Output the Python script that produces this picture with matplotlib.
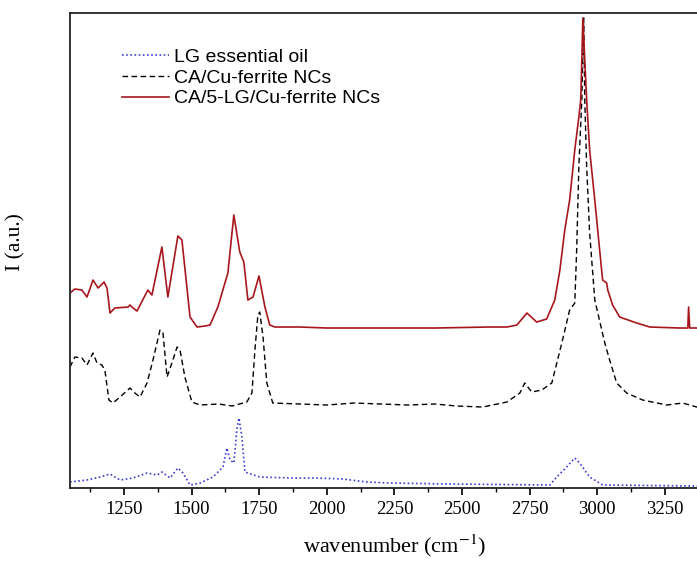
import numpy as np
import matplotlib
matplotlib.use('Agg')
import matplotlib.pyplot as plt
from matplotlib.ticker import MultipleLocator

plt.rcParams['font.family'] = 'Liberation Serif'
plt.rcParams['mathtext.fontset'] = 'stix'

# CA/5-LG/Cu-ferrite NCs (solid red)
red_wn = [1050, 1068, 1094, 1113, 1135, 1154, 1176, 1187, 1198, 1216, 1265, 1272,
          1279, 1298, 1338, 1353, 1390, 1412, 1449, 1464, 1494, 1520, 1549, 1568,
          1597, 1634, 1656, 1678, 1693, 1708, 1727, 1749, 1771, 1789, 1808, 1900,
          2000, 2200, 2400, 2600, 2666, 2703, 2740, 2776, 2813, 2843,
          2862, 2880, 2898, 2917, 2932, 2939, 2943, 2947, 2954, 2961, 2972, 2991,
          3009, 3020, 3035, 3039, 3057, 3083, 3146, 3194, 3305, 3335, 3338, 3342,
          3368, 3450]
red_int = [195, 199, 198, 191, 208, 200, 206, 200, 175, 180, 181, 183,
           181, 177, 198, 193, 241, 191, 252, 248, 171, 161, 162, 163,
           181, 215, 273, 236, 226, 188, 191, 212, 181, 163, 161, 161,
           160, 160, 160, 161, 161, 163, 175, 166, 169, 188,
           218, 258, 288, 338, 371, 388, 428, 470, 428, 388, 338, 288,
           238, 208, 205, 198, 183, 171, 165, 161, 160, 160, 181, 160,
           160, 160]

# CA/Cu-ferrite NCs (dashed black)
blk_wn = [1050, 1068, 1094, 1113, 1135, 1150, 1168, 1179, 1194, 1209, 1235, 1272,
          1290, 1309, 1335, 1357, 1383, 1394, 1409, 1427, 1446, 1457, 1475, 1501,
          1531, 1600, 1650, 1704, 1723, 1734, 1745, 1752, 1764, 1778, 1800, 1900,
          2000, 2100, 2200, 2300, 2400, 2480, 2577, 2666, 2714, 2732, 2758, 2795,
          2832, 2869, 2898, 2917, 2924, 2932, 2943, 2950, 2954, 2961, 2972, 2991,
          3028, 3046, 3072, 3109, 3168, 3257, 3316, 3368, 3450]
blk_int = [121, 131, 130, 123, 135, 125, 123, 118, 88, 85, 91, 100,
           95, 91, 105, 128, 158, 155, 111, 125, 141, 138, 111, 86,
           83, 84, 82, 86, 95, 138, 173, 176, 151, 105, 85, 84,
           83, 85, 84, 83, 84, 82, 81, 86, 95, 105, 96, 98,
           105, 145, 178, 185, 238, 321, 388, 470, 388, 321, 255, 188,
           145, 128, 105, 95, 88, 83, 85, 81, 81]

# LG essential oil (dotted blue)
blu_wn = [1050, 1113, 1161, 1198, 1235, 1283, 1335, 1372, 1390, 1420, 1449, 1468,
          1494, 1531, 1579, 1616, 1630, 1642, 1656, 1667, 1675, 1686, 1697, 1752,
          1874, 1963, 2059, 2148, 2233, 2455, 2825, 2850, 2887, 2917, 2935, 2972,
          3020, 3368, 3450]
blu_int = [6, 8, 11, 14, 8, 10, 15, 13, 16, 10, 20, 15,
           3, 5, 11, 21, 40, 28, 25, 58, 70, 51, 16, 11,
           10, 10, 9, 6, 5, 4, 3, 11, 21, 30, 25, 11,
           3, 2, 2]

fig = plt.figure(figsize=(6.97, 5.61), dpi=100)
ax = fig.add_axes([0.1004, 0.1301, 0.931, 0.8467])

ax.plot(blu_wn, blu_int, color='#3b3bd6', lw=1.2, ls=(0, (1, 1.5)), label='LG essential oil')
ax.plot(blk_wn, blk_int, color='black', lw=1.0, ls=(0, (4, 2.5)), label='CA/Cu-ferrite NCs')
ax.plot(red_wn, red_int, color='#a8161c', lw=1.2, ls='-', label='CA/5-LG/Cu-ferrite NCs')

ax.set_xlim(1050, 3450)
ax.set_ylim(0, 475)
ax.xaxis.set_major_locator(MultipleLocator(250))
ax.xaxis.set_minor_locator(MultipleLocator(125))
ax.set_yticks([])
ax.tick_params(axis='x', which='major', direction='out', length=5, width=1.2,
               labelsize=13.5, pad=4.5)
ax.tick_params(axis='x', which='minor', direction='out', length=2.8, width=1.0)
for s in ax.spines.values():
    s.set_linewidth(1.3)
    s.set_color('#222222')

ax.set_xlabel('wavenumber (cm$^{-1}$)', fontsize=16, labelpad=10)
ax.set_ylabel('I (a.u.)', fontsize=15.5)
ax.yaxis.set_label_coords(-0.069, 0.518)

ax.legend(loc='upper left', bbox_to_anchor=(0.08, 0.925), frameon=False,
          borderpad=0, borderaxespad=0,
          handlelength=2.4, handletextpad=0.3, labelspacing=0.15,
          prop={'family': 'Liberation Sans', 'size': 14})

fig.savefig('out.png', dpi=100)
